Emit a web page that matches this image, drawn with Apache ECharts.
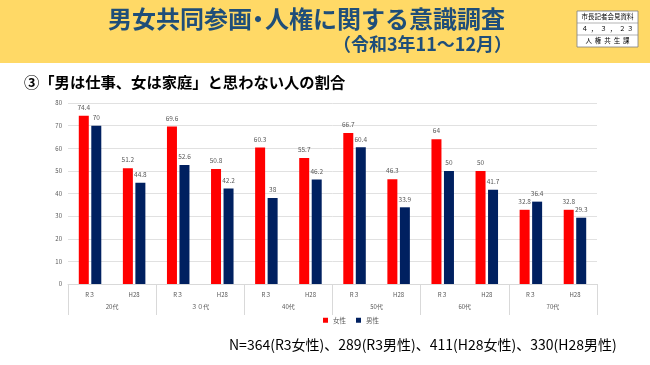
<!DOCTYPE html>
<html><head><meta charset="utf-8">
<script src="https://cdn.jsdelivr.net/npm/echarts@6/dist/echarts.min.js"></script>
<style>html,body{margin:0;padding:0;background:#fff}#c{width:650px;height:365px}</style>
</head><body><div id="c"></div>
<script>
const periods = ['R３','H28','R３','H28','R３','H28','R３','H28','R３','H28','R３','H28'];
const ageGroups = ['20代','３０代','40代','50代','60代','70代'];
const seriesNames = ['女性','男性'];
const female = [74.4,51.2,69.6,50.8,60.3,55.7,66.7,46.3,64,50,32.8,32.8];
const male = [70,44.8,52.6,42.2,38,46.2,60.4,33.9,50,41.7,36.4,29.3];
const yTicks = [0,10,20,30,40,50,60,70,80];

const chart = echarts.init(document.getElementById('c'), null, {renderer:'canvas'});
const jp = '"Noto Sans CJK JP", "Noto Sans", sans-serif';
const lbl = {show:true, position:'top', fontSize:6.5, color:'#595959', fontFamily:jp, distance:5};
const tc = '#1F4E79';
chart.setOption({
  animation:false,
  textStyle:{fontFamily:jp},
  graphic:[
    {type:'rect', shape:{x:0,y:0,width:650,height:63}, style:{fill:'#FFD966'}, silent:true},
    {type:'text', x:108, y:19, style:{text:'男女共同参画', fill:tc, font:'bold 24px '+jp, textAlign:'left', textVerticalAlign:'middle'}},
    {type:'text', x:258, y:19, style:{text:'・', fill:tc, font:'bold 24px '+jp, textAlign:'center', textVerticalAlign:'middle'}},
    {type:'text', x:265, y:19, style:{text:'人権に関する意識調査', fill:tc, font:'bold 24px '+jp, textAlign:'left', textVerticalAlign:'middle'}},
    {type:'text', x:333, y:44, style:{text:'（令和3年11～12月）', fill:tc, font:'bold 18px '+jp, textAlign:'left', textVerticalAlign:'middle'}},
    {type:'rect', shape:{x:577,y:11,width:61,height:36}, style:{fill:'#fff', stroke:'#7f7f7f', lineWidth:0.8}},
    {type:'line', shape:{x1:577,y1:23,x2:638,y2:23}, style:{stroke:'#7f7f7f', lineWidth:0.6}},
    {type:'line', shape:{x1:577,y1:35,x2:638,y2:35}, style:{stroke:'#7f7f7f', lineWidth:0.6}},
    {type:'text', x:607.5, y:17, style:{text:'市長記者会見資料', fill:'#000', font:'6.5px '+jp, textAlign:'center', textVerticalAlign:'middle'}},
    {type:'text', x:607.5, y:29, style:{text:'４  ，  ３  ，  ２ ３', fill:'#000', font:'6.5px '+jp, textAlign:'center', textVerticalAlign:'middle'}},
    {type:'text', x:607.5, y:41, style:{text:'人  権  共  生  課', fill:'#000', font:'6.5px '+jp, textAlign:'center', textVerticalAlign:'middle'}},
    {type:'text', x:24, y:82, style:{text:'③「男は仕事、女は家庭」と思わない人の割合', fill:'#000', font:'bold 15.3px '+jp, textAlign:'left', textVerticalAlign:'middle'}},
    {type:'text', x:229, y:345, style:{text:'N=364(R3女性)、289(R3男性)、411(H28女性)、330(H28男性)', fill:'#000', font:'14px '+jp, textAlign:'left', textVerticalAlign:'middle'}}
  ],
  grid:{left:68, right:53, top:103, bottom:81, containLabel:false},
  legend:{data:seriesNames, left:318, top:312, itemWidth:5, itemHeight:5, itemGap:10, icon:'rect',
    textStyle:{fontSize:6.5, color:'#595959', fontFamily:jp}},
  xAxis:[
    {type:'category', data:periods, position:'bottom',
      axisLine:{lineStyle:{color:'#d9d9d9'}}, axisTick:{show:false},
      axisLabel:{fontSize:6, color:'#595959', margin:8, interval:0}},
    {type:'category', data:ageGroups, position:'bottom', offset:0,
      axisLine:{show:false}, axisTick:{show:true, length:31, interval:0, lineStyle:{color:'#d9d9d9'}},
      axisLabel:{fontSize:6, color:'#595959', margin:20, interval:0}}
  ],
  yAxis:{type:'value', min:0, max:80, interval:10,
    axisLine:{show:false}, axisTick:{show:false},
    splitLine:{lineStyle:{color:'#d9d9d9', width:0.8}},
    axisLabel:{fontSize:6, color:'#595959', margin:6,
      formatter:(v)=> yTicks.includes(v) ? String(v) : ''}},
  series:[
    {name:seriesNames[0], type:'bar', xAxisIndex:0, data:female, barWidth:10, barGap:'25%',
      itemStyle:{color:'#FF0000'}, label:lbl},
    {name:seriesNames[1], type:'bar', xAxisIndex:0, data:male, barWidth:10, barGap:'25%',
      itemStyle:{color:'#002060'}, label:lbl}
  ]
});
</script></body></html>
